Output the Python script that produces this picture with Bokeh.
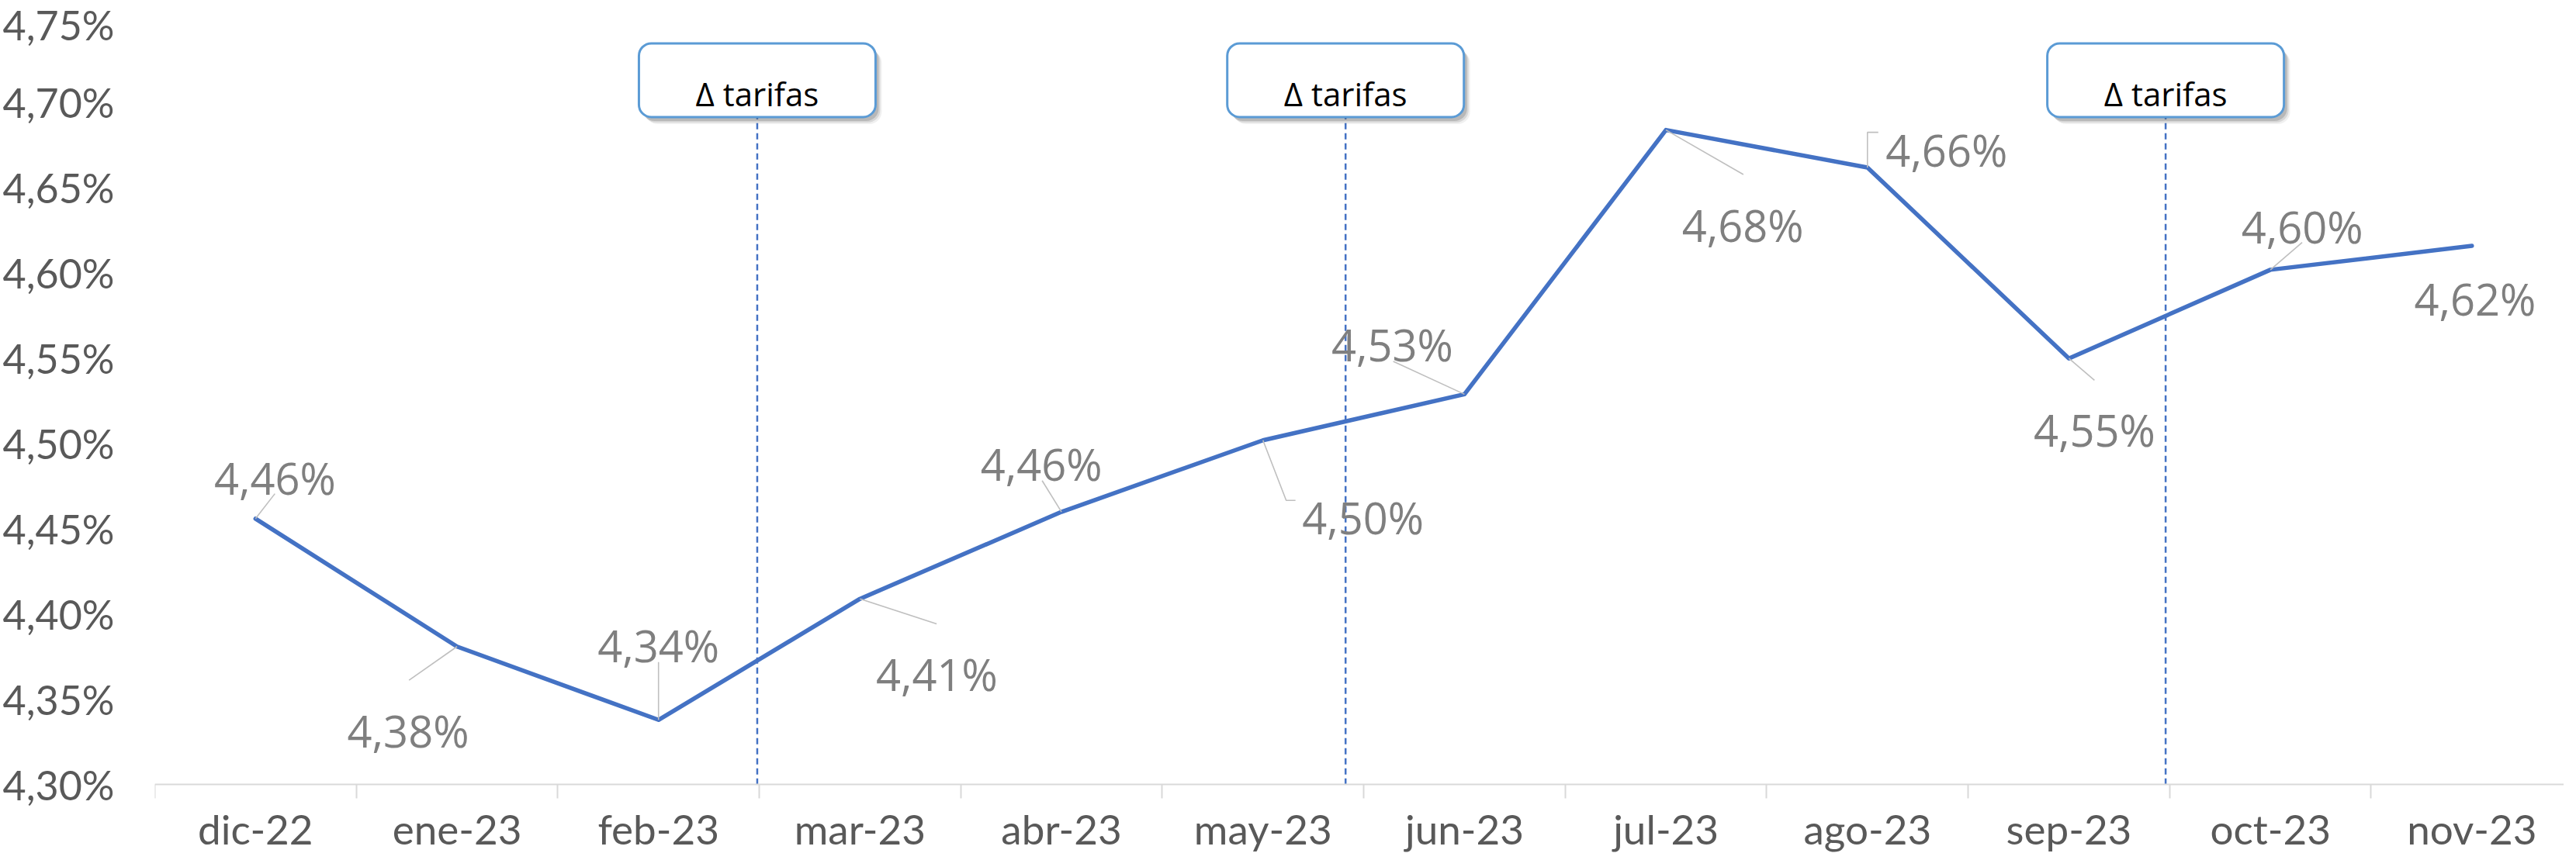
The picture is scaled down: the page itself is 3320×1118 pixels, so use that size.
from bokeh.plotting import figure
from bokeh.models import Range1d, FixedTicker, CustomJSTickFormatter
from bokeh.core.properties import value
from bokeh.embed import file_html
from bokeh.resources import INLINE

# ---------------- data ----------------
months = ["dic-22", "ene-23", "feb-23", "mar-23", "abr-23", "may-23",
          "jun-23", "jul-23", "ago-23", "sep-23", "oct-23", "nov-23"]
rate = [4.456, 4.381, 4.338, 4.409, 4.460, 4.502,
        4.529, 4.684, 4.662, 4.550, 4.602, 4.616]
y_ticks = [4.30, 4.35, 4.40, 4.45, 4.50, 4.55, 4.60, 4.65, 4.70, 4.75]
tariff_change_x = [2.99, 5.91, 9.98]
tariff_text = "Δ tarifas"

# ---------------- layout ----------------
W, H = 3304, 1102
BL, BR, BT = 192, 0, 22
B_EXTRA = 8                       # space Bokeh keeps under the frame
AXIS_PX = 90                      # frame space under the category axis line
X0, X1 = 0.0, 11.957
Y_AXIS, Y_TOP = 4.30, 4.75
XPX = (X1 - X0) / (W - BL - BR)                          # data units per pixel
YPX = (Y_TOP - Y_AXIS) / (H - BT - B_EXTRA - AXIS_PX)
Y0 = Y_AXIS - AXIS_PX * YPX

LINE_COLOR = "#4472C4"
BOX_Y = 4.7132

# label offsets (px, screen down positive) of label centre from point
label_off = [(25, -73), (-63, 88), (0, -116), (99, 77), (-26, -82), (129, 79),
             (-93, -84), (99, 102), (102, -43), (33, 72), (41, -76), (4, 48)]
leader_off = [[(0, 0), (25, -32)], [(0, 0), (-62, 43)], [(0, 0), (0, -74)],
              [(0, 0), (99, 32)], [(0, 0), (-25, -40)], [(0, 0), (30, 77), (42, 77)],
              [(0, 0), (-92, -42)], [(0, 0), (100, 57)], [(0, 0), (0, -45), (14, -45)],
              [(0, 0), (33, 28)], [(0, 0), (41, -35)], []]

xs = [i + 0.5 for i in range(len(months))]
labels = [f"{v:.2f}".replace(".", ",") + "%" for v in rate]

p = figure(width=W, height=H, x_range=Range1d(X0, X1), y_range=Range1d(Y0, Y_TOP),
           output_backend="svg", toolbar_location=None,
           min_border_left=BL, min_border_right=BR, min_border_top=BT, min_border_bottom=0)
p.outline_line_color = None
p.xgrid.visible = False
p.ygrid.visible = False
p.background_fill_color = "white"
p.border_fill_color = "white"

# x axis (drawn at 4,30 inside the frame)
p.xaxis.fixed_location = Y_AXIS
p.xaxis.ticker = FixedTicker(ticks=xs, minor_ticks=list(range(0, 13)))
p.xaxis.formatter = CustomJSTickFormatter(args=dict(labels=months),
                                          code="const i = Math.round(tick - 0.5); return labels[i] || '';")
p.xaxis.axis_line_color = "#D9D9D9"
p.xaxis.axis_line_width = 2
p.xaxis.major_tick_line_color = None
p.xaxis.major_tick_out = 0
p.xaxis.major_tick_in = 0
p.xaxis.minor_tick_line_color = "#D9D9D9"
p.xaxis.minor_tick_line_width = 2
p.xaxis.minor_tick_out = 18
p.xaxis.minor_tick_in = 0
p.xaxis.major_label_text_font = "Lato"
p.xaxis.major_label_text_font_size = "53px"
p.xaxis.major_label_text_color = "#595959"
p.xaxis.major_label_standoff = 7

# y axis
p.yaxis.ticker = FixedTicker(ticks=y_ticks)
p.yaxis.formatter = CustomJSTickFormatter(code="return tick.toFixed(2).replace('.', ',') + '%';")
p.yaxis.axis_line_color = None
p.yaxis.major_tick_line_color = None
p.yaxis.minor_tick_line_color = None
p.yaxis.major_label_text_font = "Lato"
p.yaxis.major_label_text_font_size = "52px"
p.yaxis.major_label_text_color = "#595959"
p.yaxis.major_label_standoff = 46

# dashed tariff lines
p.segment(x0=tariff_change_x, y0=[Y_AXIS] * 3, x1=tariff_change_x, y1=[BOX_Y] * 3,
          line_color=LINE_COLOR, line_width=2.5, line_dash="8 5")

# main line
p.line(xs, rate, line_color=LINE_COLOR, line_width=5.5, line_join="round", line_cap="round")

# leader lines
lx, ly = [], []
for x, y, segs in zip(xs, rate, leader_off):
    if not segs:
        continue
    lx.append([x + dx * XPX for dx, dy in segs])
    ly.append([y - dy * YPX for dx, dy in segs])
p.multi_line(lx, ly, line_color="#BFBFBF", line_width=1.6)

# data labels
p.text(xs, rate, text=labels,
       x_offset=[o[0] for o in label_off], y_offset=[o[1] + 20 for o in label_off],
       text_align="center", text_baseline="alphabetic",
       text_font=value("Open Sans"), text_font_size="56px", text_color="#7F7F7F")

# tariff boxes (shadow + box + text)
def rrect(r, rad):
    try:
        r.glyph.border_radius = rad
    except Exception:
        pass

for (ox, oy, a) in [(8, 9, 0.06), (6, 7, 0.10), (4, 5, 0.14)]:
    s = p.rect([x + ox * XPX for x in tariff_change_x], [BOX_Y - oy * YPX] * 3,
               width=305, height=95, width_units="screen", height_units="screen",
               fill_color="#000000", fill_alpha=a, line_color=None)
    rrect(s, 16)
b = p.rect(tariff_change_x, [BOX_Y] * 3, width=305, height=95,
           width_units="screen", height_units="screen",
           fill_color="white", line_color="#5B9BD5", line_width=3)
rrect(b, 16)
p.text(tariff_change_x, [BOX_Y] * 3, text=[tariff_text] * 3, y_offset=17,
       text_align="center", text_baseline="alphabetic",
       text_font=value("Open Sans"), text_font_size="42px", text_color="#000000")

open("out.html", "w").write(file_html(p, INLINE))
